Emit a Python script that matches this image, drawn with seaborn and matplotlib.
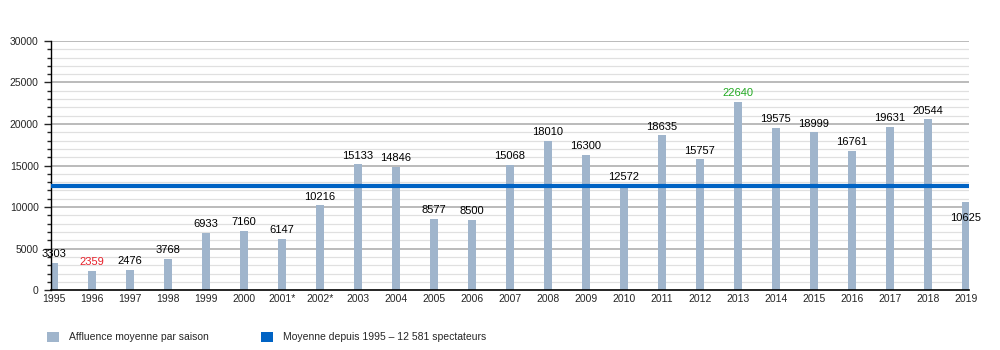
import numpy as np
import pandas as pd
import matplotlib
matplotlib.use("Agg")
import matplotlib.pyplot as plt
from matplotlib.patches import Patch
from matplotlib.ticker import MultipleLocator
import seaborn as sns

seasons = ['1995', '1996', '1997', '1998', '1999', '2000', '2001*', '2002*', '2003', '2004',
           '2005', '2006', '2007', '2008', '2009', '2010', '2011', '2012', '2013', '2014',
           '2015', '2016', '2017', '2018', '2019']
affluence = [3303, 2359, 2476, 3768, 6933, 7160, 6147, 10216, 15133, 14846,
             8577, 8500, 15068, 18010, 16300, 12572, 18635, 15757, 22640, 19575,
             18999, 16761, 19631, 20544, 10625]
moyenne = 12581

df = pd.DataFrame({'saison': seasons, 'affluence': affluence})

sns.set_style("white")
plt.rcParams['font.family'] = ['Liberation Sans', 'DejaVu Sans']

fig = plt.figure(figsize=(10, 3.5), dpi=100)
ax = fig.add_axes([0.0505, 0.171, 0.9185, 0.712])

# grille : majeure tous les 5000, mineure tous les 1000
for v in range(1000, 30001, 1000):
    if v % 5000 == 0:
        ax.axhline(v, color='#a8a8a8', lw=1.1, zorder=0)
    else:
        ax.axhline(v, color='#e0e0e0', lw=0.9, zorder=0)

sns.barplot(data=df, x='saison', y='affluence', color='#a0b5cc', width=0.19,
            saturation=1, edgecolor='none', linewidth=0, ax=ax, zorder=2)

ax.axhline(moyenne, color='#0063c4', lw=3, zorder=3)

# étiquettes des valeurs
for i, v in enumerate(affluence):
    col = 'black'
    if v == min(affluence):
        col = '#e8202a'
    elif v == max(affluence):
        col = '#22aa22'
    y = v + 450
    if i == len(affluence) - 1:
        y = v - 2600
    ax.text(i, y, str(v), ha='center', va='bottom', fontsize=8, color=col, zorder=4)

ax.set_xlim(-0.09, 24.08)
ax.set_ylim(0, 30000)
ax.yaxis.set_major_locator(MultipleLocator(5000))
ax.yaxis.set_minor_locator(MultipleLocator(1000))
ax.tick_params(axis='y', which='major', length=5, width=1, labelsize=7.5, left=True)
ax.tick_params(axis='y', which='minor', length=3, width=1, left=True)
ax.tick_params(axis='x', length=0, labelsize=7.5, pad=3)
ax.set_xlabel('')
ax.set_ylabel('')
for s in ['top', 'right']:
    ax.spines[s].set_visible(False)
ax.spines['left'].set_color('black')
ax.spines['bottom'].set_color('black')
ax.spines['left'].set_linewidth(1)
ax.spines['bottom'].set_linewidth(1.2)

handles = [Patch(facecolor='#a0b5cc', edgecolor='none', label='Affluence moyenne par saison'),
           Patch(facecolor='#0063c4', edgecolor='none', label='Moyenne depuis 1995 – 12 581 spectateurs')]
fig.legend(handles=handles, loc='lower left', bbox_to_anchor=(0.038, -0.005), ncol=2,
           frameon=False, fontsize=7.5, handlelength=1.15, handleheight=1.15,
           columnspacing=5.0, handletextpad=0.95)

fig.savefig('out.png', dpi=100)
